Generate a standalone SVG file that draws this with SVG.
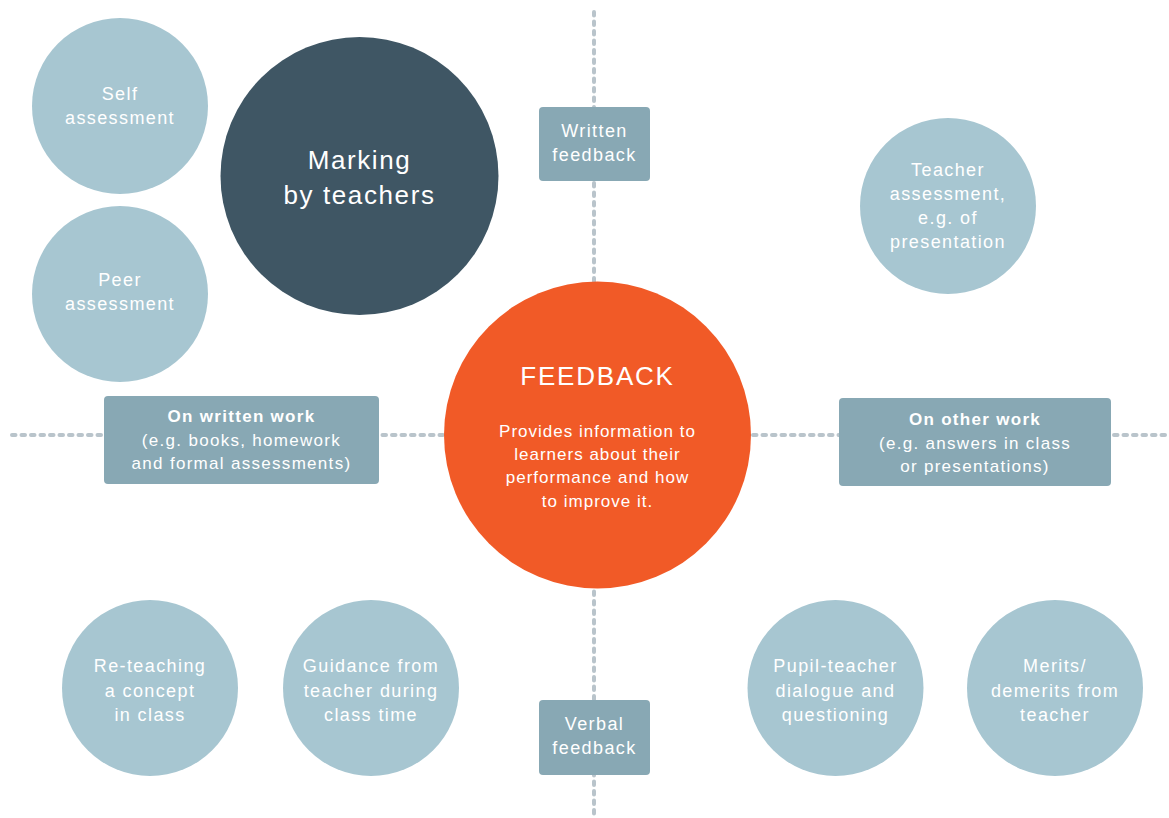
<svg xmlns="http://www.w3.org/2000/svg" width="1169" height="818" viewBox="0 0 1169 818">
<style>
text{font-family:"Liberation Sans",Arial,sans-serif;fill:#ffffff;text-anchor:middle}
.lc{fill:#A7C6D1}
.dk{fill:#3F5664}
.or{fill:#F15A27}
.bx{fill:#88A8B4}
.t18{font-size:18px;letter-spacing:1.4px}
.tb{font-size:17px;letter-spacing:1.3px}
.tbh{font-size:17px;letter-spacing:1.3px;font-weight:bold}
.big{font-size:26px;letter-spacing:1.6px}
.fb{font-size:26px;letter-spacing:1.8px}
.body{font-size:17px;letter-spacing:1px}
.dash{stroke:#B9C4CB;stroke-width:4;stroke-dasharray:3.5 6;stroke-linecap:round;fill:none}
</style>
<rect width="1169" height="818" fill="#ffffff"/>
<g id="connectors">
<line class="dash" x1="594" y1="12" x2="594" y2="818"/>
<line class="dash" x1="12" y1="435" x2="1169" y2="435"/>
</g>
<g id="self">
<circle class="lc" cx="120" cy="106" r="88"/>
<text class="t18" x="120" y="100">Self</text>
<text class="t18" x="120" y="124">assessment</text>
</g>
<g id="peer">
<circle class="lc" cx="120" cy="294" r="88"/>
<text class="t18" x="120" y="286">Peer</text>
<text class="t18" x="120" y="310">assessment</text>
</g>
<g id="marking">
<circle class="dk" cx="359.5" cy="176" r="139"/>
<text class="big" x="359.5" y="169">Marking</text>
<text class="big" x="359.5" y="204">by teachers</text>
</g>
<g id="written-feedback">
<rect class="bx" x="539" y="107" width="111" height="74" rx="4"/>
<text class="t18" x="594.5" y="137">Written</text>
<text class="t18" x="594.5" y="161">feedback</text>
</g>
<g id="teacher-assessment">
<circle class="lc" cx="948" cy="206" r="88"/>
<text class="t18" x="948" y="176">Teacher</text>
<text class="t18" x="948" y="200">assessment,</text>
<text class="t18" x="948" y="224">e.g. of</text>
<text class="t18" x="948" y="248">presentation</text>
</g>
<g id="on-written-work">
<rect class="bx" x="104" y="396" width="275" height="88" rx="4"/>
<text class="tbh" x="241.5" y="422">On written work</text>
<text class="tb" x="241.5" y="446">(e.g. books, homework</text>
<text class="tb" x="241.5" y="469">and formal assessments)</text>
</g>
<g id="feedback">
<circle class="or" cx="597.5" cy="435" r="153.5"/>
<text class="fb" x="597.5" y="385">FEEDBACK</text>
<text class="body" x="597.5" y="437">Provides information to</text>
<text class="body" x="597.5" y="460">learners about their</text>
<text class="body" x="597.5" y="483">performance and how</text>
<text class="body" x="597.5" y="507">to improve it.</text>
</g>
<g id="on-other-work">
<rect class="bx" x="839" y="398" width="272" height="88" rx="4"/>
<text class="tbh" x="975" y="425">On other work</text>
<text class="tb" x="975" y="449">(e.g. answers in class</text>
<text class="tb" x="975" y="472">or presentations)</text>
</g>
<g id="re-teaching">
<circle class="lc" cx="150" cy="688" r="88"/>
<text class="t18" x="150" y="672">Re-teaching</text>
<text class="t18" x="150" y="697">a concept</text>
<text class="t18" x="150" y="721">in class</text>
</g>
<g id="guidance">
<circle class="lc" cx="371" cy="688" r="88"/>
<text class="t18" x="371" y="672">Guidance from</text>
<text class="t18" x="371" y="697">teacher during</text>
<text class="t18" x="371" y="721">class time</text>
</g>
<g id="verbal-feedback">
<rect class="bx" x="539" y="700" width="111" height="75" rx="4"/>
<text class="t18" x="594.5" y="730">Verbal</text>
<text class="t18" x="594.5" y="754">feedback</text>
</g>
<g id="pupil-teacher">
<circle class="lc" cx="835.5" cy="688" r="88"/>
<text class="t18" x="835.5" y="672">Pupil-teacher</text>
<text class="t18" x="835.5" y="697">dialogue and</text>
<text class="t18" x="835.5" y="721">questioning</text>
</g>
<g id="merits">
<circle class="lc" cx="1055" cy="688" r="88"/>
<text class="t18" x="1055" y="672">Merits/</text>
<text class="t18" x="1055" y="697">demerits from</text>
<text class="t18" x="1055" y="721">teacher</text>
</g>
</svg>
